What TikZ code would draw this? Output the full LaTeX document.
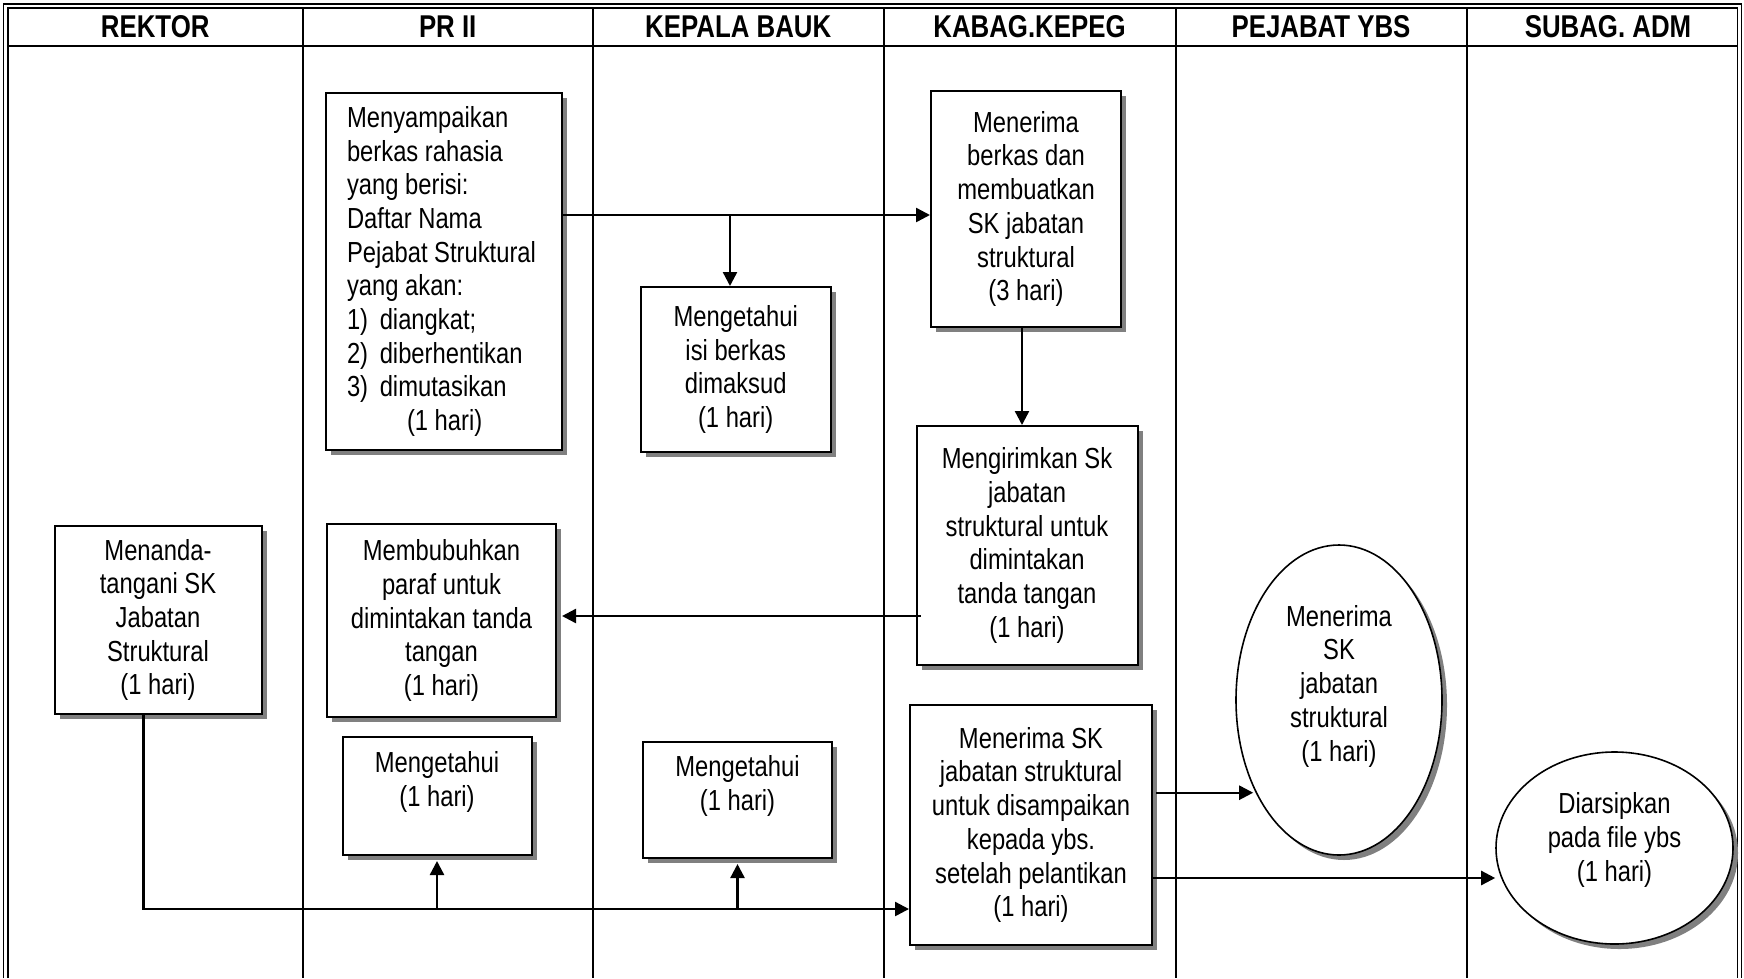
\documentclass[tikz,border=0pt]{standalone}
\usepackage{fontspec}
\setmainfont{Liberation Sans}[FakeStretch=0.82]
\usetikzlibrary{shapes.geometric,shadows,arrows.meta,calc}

\begin{document}
\begin{tikzpicture}[x=1pt,y=-1pt,
  every node/.style={font=\fontsize{29}{33.7}\selectfont, text=black},
  shade/.style={drop shadow={shadow xshift=5pt, shadow yshift=-5pt, fill=black!50, opacity=1}},
  box/.style={draw, line width=2pt, fill=white, inner sep=0pt, align=center, shade},
  oval/.style={ellipse, draw, line width=1.6pt, fill=white, inner sep=0pt, align=center, shade},
  head/.style={font=\fontsize{31.5}{36}\selectfont\bfseries},
  frame/.style={line width=1.5pt},
  lane/.style={line width=2pt},
  arr/.style={line width=2.4pt, -{Triangle[length=14pt,width=14pt]}}
]
\useasboundingbox (0,0) rectangle (1744,978);

% double outer frame
\draw[frame] (3.5,978) -- (3.5,4) -- (1741.5,4) -- (1741.5,978);
\draw[frame] (8,978) -- (8,8) -- (1737.5,8) -- (1737.5,978);

% header rule and lane dividers
\draw[lane] (8,45.6) -- (1737.5,45.6);
\foreach \xx in {302.5,593,883.5,1175.5,1466.7}
  \draw[lane] (\xx,8) -- (\xx,978);

% lane titles
\node[head] (h1) at (155.2,26.5) {REKTOR};
\node[head] (h2) at (447.7,26.5) {PR II};
\node[head] (h3) at (738.2,26.5) {KEPALA BAUK};
\node[head] (h4) at (1029.5,26.5) {KABAG.KEPEG};
\node[head] (h5) at (1321,26.5) {PEJABAT YBS};
\node[head] (h6) at (1608,26.5) {SUBAG. ADM};

% process steps
\node[box, minimum width=236, minimum height=357, text width=194pt, align=left] (b1) at (444,271.5)
  {\spaceskip=0pt\xspaceskip=0pt
   Menyampaikan\\ berkas rahasia\\ yang berisi:\\ Daftar Nama\\ Pejabat Struktural\\ yang akan:\\
   1)\hspace{5pt} diangkat;\\ 2)\hspace{5pt} diberhentikan\\ 3)\hspace{5pt} dimutasikan\\ \hspace*{60pt}(1 hari)};
\node[box, minimum width=190, minimum height=236] (b2) at (1026,209)
  {Menerima\\ berkas dan\\ membuatkan\\ SK jabatan\\ struktural\\ (3 hari)};
\node[box, minimum width=190, minimum height=165] (b3) at (735.7,369.5)
  {Mengetahui\\ isi berkas\\ dimaksud\\ (1 hari)};
\node[box, minimum width=221, minimum height=239] (b4) at (1027,545.5)
  {Mengirimkan Sk\\ jabatan\\ struktural untuk\\ dimintakan\\ tanda tangan\\ (1 hari)};
\node[box, minimum width=207, minimum height=188] (b5) at (158,620)
  {Menanda-\\ tangani SK\\ Jabatan\\ Struktural\\ (1 hari)};
\node[box, minimum width=229, minimum height=193] (b6) at (441.5,620.5)
  {Membubuhkan\\ paraf untuk\\ dimintakan tanda\\ tangan\\ (1 hari)};
\node[box, minimum width=189, minimum height=118] (b7) at (437,796)
  {Mengetahui\\ (1 hari)\\ \mbox{}};
\node[box, minimum width=189, minimum height=116] (b8) at (737.5,800)
  {Mengetahui\\ (1 hari)\\ \mbox{}};
\node[box, minimum width=242, minimum height=240] (b9) at (1031,825)
  {Menerima SK\\ jabatan struktural\\ untuk disampaikan\\ kepada ybs.\\ setelah pelantikan\\ (1 hari)};
\node[oval, minimum width=206, minimum height=310] (e10) at (1339,700)
  {Menerima\\ SK\\ jabatan\\ struktural\\ (1 hari)\\ \mbox{}};
\node[oval, minimum width=237, minimum height=192] (e11) at (1614.5,848)
  {Diarsipkan\\ pada file ybs\\ (1 hari)\rule[-22pt]{0pt}{0pt}};

% flow
\coordinate (ja) at (730,215);
\draw[arr] (b1.east |- ja) -- (b2.west |- ja);
\draw[arr] (ja) -- (b3.north -| ja);
\draw[arr] ([xshift=-4pt]b2.south) -- ([xshift=-4pt]b2.south |- b4.north);
\coordinate (jc) at (900,616);
\draw[arr] ([xshift=5pt]b4.west |- jc) -- ([xshift=5pt]b6.east |- jc);
\coordinate (jd) at (143.5,909);
\draw[arr] (b5.south -| jd) -- (jd) -- (b9.west |- jd);
\draw[arr] (b7.south |- jd) -- ([yshift=-5pt]b7.south);
\draw[arr] (b8.south |- jd) -- ([yshift=-5pt]b8.south);
\coordinate (je) at (1154.5,792.7);
\draw[arr] ([xshift=3pt]b9.east |- je) -- ([xshift=18pt]e10.west |- je);
\coordinate (jf) at (1150,878);
\draw[arr] ([xshift=-2pt]b9.east |- jf) -- (e11.west |- jf);
\end{tikzpicture}
\end{document}
